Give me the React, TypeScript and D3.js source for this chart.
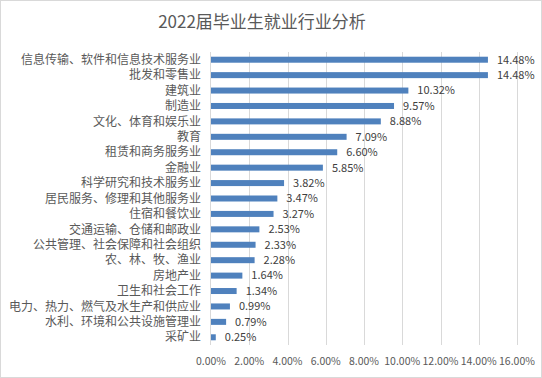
import React from "react";
import * as d3 from "d3";

const title = "2022届毕业生就业行业分析";
const categories = [
  "信息传输、软件和信息技术服务业",
  "批发和零售业",
  "建筑业",
  "制造业",
  "文化、体育和娱乐业",
  "教育",
  "租赁和商务服务业",
  "金融业",
  "科学研究和技术服务业",
  "居民服务、修理和其他服务业",
  "住宿和餐饮业",
  "交通运输、仓储和邮政业",
  "公共管理、社会保障和社会组织",
  "农、林、牧、渔业",
  "房地产业",
  "卫生和社会工作",
  "电力、热力、燃气及水生产和供应业",
  "水利、环境和公共设施管理业",
  "采矿业",
];
const values = [14.48, 14.48, 10.32, 9.57, 8.88, 7.09, 6.6, 5.85, 3.82, 3.47, 3.27, 2.53, 2.33, 2.28, 1.64, 1.34, 0.99, 0.79, 0.25];
const xTicks = [0, 2, 4, 6, 8, 10, 12, 14, 16];

const W = 542;
const H = 378;
const plot = { left: 211, right: 517, top: 52, bottom: 345 };
const FONT = "'Noto Sans CJK SC', 'Noto Sans', sans-serif";

export default function App() {
  const x = d3.scaleLinear().domain([0, 16]).range([plot.left, plot.right]);
  const yc = d3.scaleBand<string>().domain(categories).range([plot.top, plot.bottom]);
  const fmt = (v: number) => v.toFixed(2) + "%";
  return (
    <svg
      width={W}
      height={H}
      style={{ position: "absolute", left: 0, top: 0, background: "#fff" }}
      fontFamily={FONT}
    >
      <rect x={0.5} y={0.5} width={W - 1} height={H - 1} fill="#fff" stroke="#d9d9d9" />
      <text x={262} y={28} textAnchor="middle" fontSize={17} fill="#595959">
        {title}
      </text>
      {xTicks.map((t) => (
        <g key={t}>
          {t > 0 && (
            <line
              x1={Math.round(x(t)) + 0.5}
              x2={Math.round(x(t)) + 0.5}
              y1={plot.top}
              y2={plot.bottom}
              stroke="#d9d9d9"
            />
          )}
          <text x={x(t)} y={365} textAnchor="middle" fontSize={10.5} fill="#595959">
            {fmt(t)}
          </text>
        </g>
      ))}
      {categories.map((c, i) => {
        const cy = (yc(c) as number) + yc.bandwidth() / 2;
        const bh = 6;
        return (
          <g key={c}>
            <rect x={x(0)} y={cy - bh / 2} width={x(values[i]) - x(0)} height={bh} fill="#4f81bd" />
            <text x={201} y={cy} dy="0.35em" textAnchor="end" fontSize={12} fill="#595959">
              {c}
            </text>
            <text x={x(values[i]) + 9} y={cy} dy="0.35em" fontSize={11} fill="#404040">
              {fmt(values[i])}
            </text>
          </g>
        );
      })}
      <line x1={plot.left - 0.5} x2={plot.left - 0.5} y1={plot.top} y2={plot.bottom} stroke="#d9d9d9" />
    </svg>
  );
}
